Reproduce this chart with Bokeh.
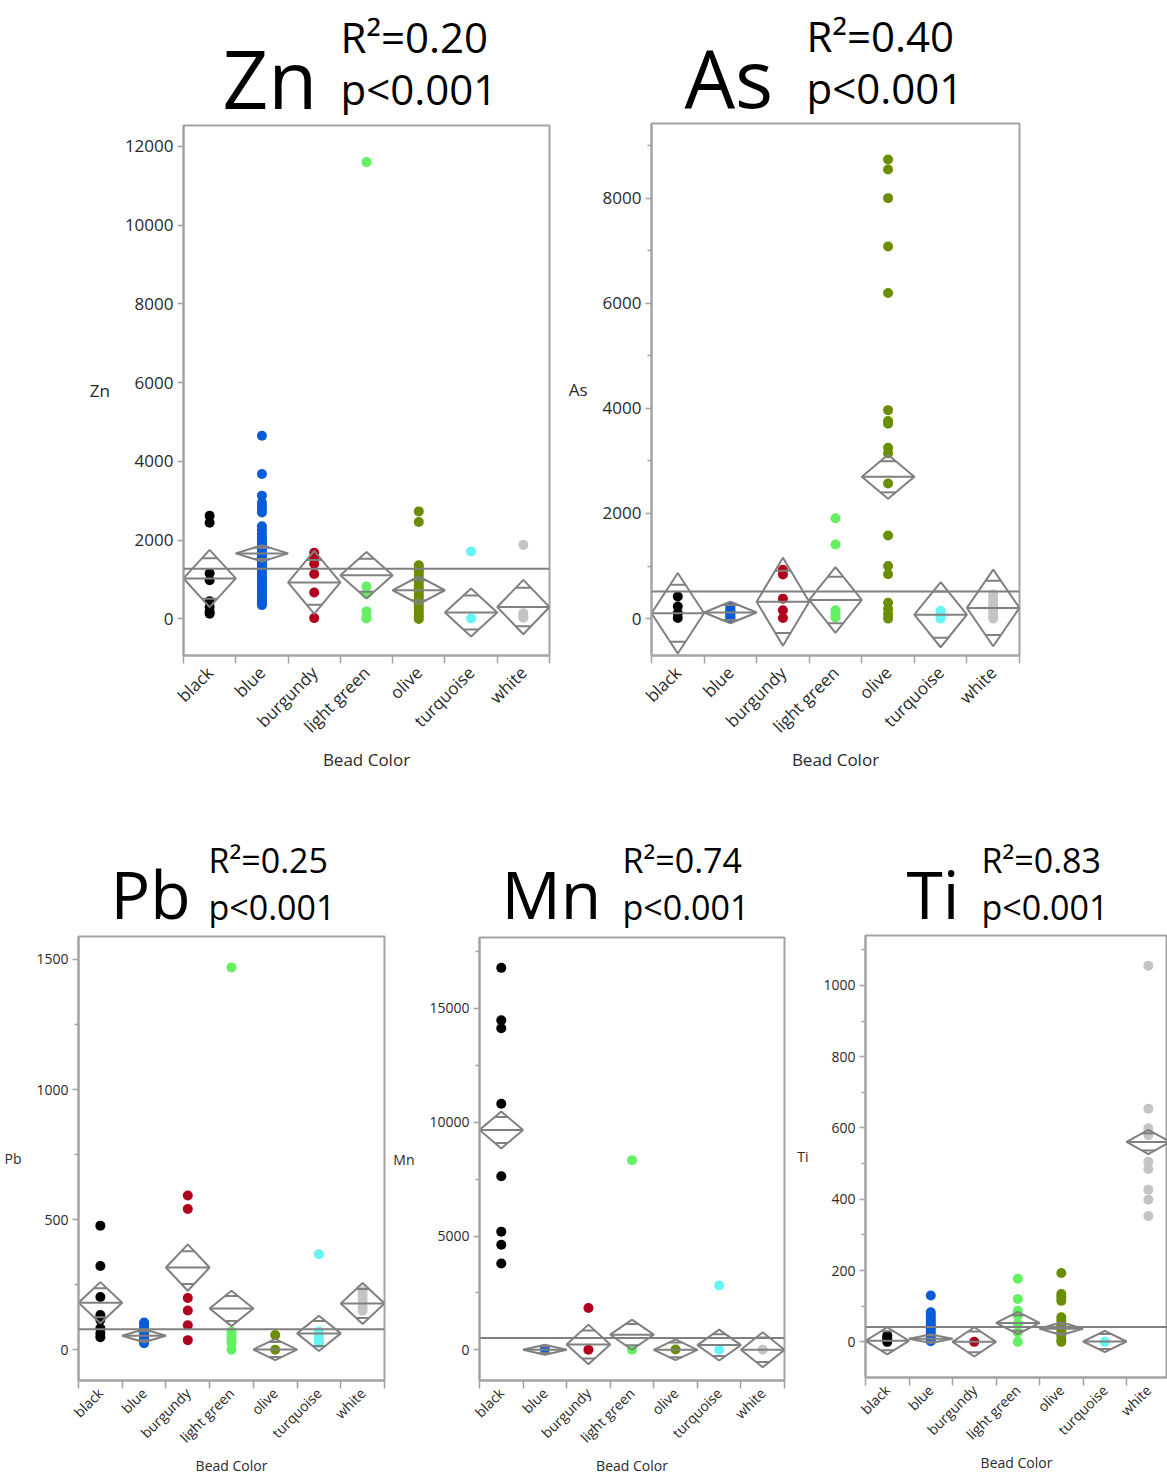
import math
from bokeh.plotting import figure
from bokeh.layouts import column, row
from bokeh.models import FixedTicker, Span, Range1d, ColumnDataSource
from bokeh.core.properties import value
from bokeh.embed import file_html
from bokeh.resources import INLINE

categories = ["black", "blue", "burgundy", "light green", "olive", "turquoise", "white"]
dot_colors = ["#000000", "#0a5bd8", "#b0001e", "#63f063", "#6b8e00", "#66f5f5", "#c4c4c4"]

# ---------------- Zn ----------------
zn_r2 = "0.20"
zn_points = [
    [2620, 2440, 1160, 980, 450, 300, 180, 130],
    [4650, 3680, 3130, 2950, 2850, 2780, 2700, 2350, 2250, 2150, 2080, 2000, 1950, 1880,
     1820, 1760, 1700, 1650, 1600, 1560, 1500, 1450, 1400, 1350, 1300, 1250, 1180, 1120,
     1050, 980, 920, 860, 800, 740, 680, 620, 560, 500, 450, 400, 350],
    [1680, 1540, 1400, 1140, 670, 20],
    [11600, 820, 640, 190, 60, 10],
    [2730, 2460, 1360, 1300, 1240, 1180, 1100, 1020, 940, 860, 780, 700, 620, 540, 460,
     380, 300, 220, 140, 60, 0],
    [1710, 10],
    [1880, 140, 60, 30],
]
zn_means = [1027, 1663, 927, 1109, 727, 164, 300]
zn_ci = [727, 205, 800, 590, 355, 610, 690]
zn_grand = 1273
zn_yticks = [0, 2000, 4000, 6000, 8000, 10000, 12000]
zn_yminor = []

# ---------------- As ----------------
as_r2 = "0.40"
as_points = [
    [420, 230, 100, 10],
    [220, 180, 150, 120, 90, 60, 30, 10],
    [930, 840, 380, 160, 10],
    [1910, 1410, 160, 90, 20],
    [8735, 8545, 8000, 7080, 6194, 3966, 3761, 3707, 3250, 3148, 2569, 1581, 1002, 845,
     300, 184, 82, 0],
    [150, 90, 40, 0],
    [460, 400, 340, 280, 220, 160, 100, 40, 0],
]
as_means = [102, 116, 320, 354, 2698, 75, 204]
as_ci = [767, 204, 838, 627, 419, 620, 729]
as_grand = 518
as_yticks = [0, 2000, 4000, 6000, 8000]
as_yminor = [1000, 3000, 5000, 7000, 9000]

# ---------------- Pb ----------------
pb_r2 = "0.25"
pb_points = [
    [477, 322, 203, 134, 115, 83, 63, 48],
    [105, 95, 85, 75, 65, 55, 45, 35, 25],
    [593, 541, 199, 151, 94, 37],
    [1469, 70, 55, 40, 25, 0],
    [57, 0],
    [367, 70, 55, 40, 25],
    [225, 210, 195, 180, 165, 150],
]
pb_means = [181, 54, 316, 159, 1, 63, 178]
pb_ci = [79, 25, 89, 68, 41, 68, 79]
pb_grand = 79
pb_yticks = [0, 500, 1000, 1500]
pb_yminor = [250, 750, 1250]

# ---------------- Mn ----------------
mn_r2 = "0.74"
mn_points = [
    [16786, 14485, 14130, 10812, 7626, 5192, 4617, 3791],
    [20],
    [1840, 0],
    [8330, 0],
    [10],
    [2830, 0],
    [0],
]
mn_means = [9661, 0, 236, 664, 0, 206, 0]
mn_ci = [811, 221, 870, 664, 457, 678, 767]
mn_grand = 516
mn_yticks = [0, 5000, 10000, 15000]
mn_yminor = [2500, 7500, 12500, 17500]

# ---------------- Ti ----------------
ti_r2 = "0.83"
ti_points = [
    [18, 12, 6, 0],
    [130, 83, 75, 68, 60, 52, 45, 38, 30, 22, 15, 8, 2],
    [0],
    [177, 120, 87, 73, 50, 26, 0],
    [193, 134, 125, 115, 69, 59, 45, 31, 17, 5, 0],
    [0],
    [1055, 654, 599, 580, 505, 485, 427, 399, 353],
]
ti_means = [3, 9, 0, 53, 37, 1, 561]
ti_ci = [38, 12, 41, 31, 18, 30, 34]
ti_grand = 42
ti_yticks = [0, 200, 400, 600, 800, 1000]
ti_yminor = [100, 300, 500, 700, 900, 1100]

FONT = "Open Sans"
GRAY = "#a3a3a3"
DGRAY = "#808080"
TOP_PAD = 3
MID = 0.388  # distance from baseline to the 'middle' anchor, in em (Open Sans)


def title_fig(frame_left, fw, bl, br, row_top, frame_top, sym, r2, big_fs, small_fs,
              big_x, small_x, big_base, r2_base, p_base):
    """Header strip whose frame spans the panel's frame columns; page-pixel coordinates."""
    h = frame_top - TOP_PAD - row_top
    t = figure(title=None, frame_width=fw, frame_height=h, min_border_left=bl,
               min_border_right=br, min_border_top=0, min_border_bottom=0,
               x_range=Range1d(frame_left, frame_left + fw),
               y_range=Range1d(row_top + h, row_top),
               x_axis_location=None, y_axis_location=None,
               output_backend="svg", toolbar_location=None, tools="")
    t.grid.visible = False
    t.outline_line_color = None
    t.background_fill_color = "white"
    t.border_fill_color = "white"
    t.text(x=[big_x], y=[big_base - MID * big_fs], text=[sym], text_font=value(FONT),
           text_font_size=f"{big_fs}px", text_color="black", text_baseline="middle",
           text_align="left")
    t.text(x=[small_x, small_x], y=[r2_base - MID * small_fs, p_base - MID * small_fs],
           text=["R\u00b2=" + r2, "p<0.001"], text_font=value(FONT),
           text_font_size=f"{small_fs}px", text_color="black", text_baseline="middle",
           text_align="left")
    return t


def panel(sym, pts, means, ci, grand, yr, yticks, yminor, fw, fh, borders, x_end,
          tick_fs, lab_fs, xlab_fs, xl_standoff, al_standoff):
    bl, br, bb = borders
    p = figure(title=None, frame_width=fw, frame_height=fh, x_range=Range1d(0.5, x_end),
               y_range=Range1d(yr[0], yr[1]), min_border_left=bl, min_border_right=br,
               min_border_top=TOP_PAD, min_border_bottom=bb, output_backend="svg",
               toolbar_location=None, tools="")
    p.grid.visible = False
    p.outline_line_color = GRAY
    p.outline_line_width = 2
    p.background_fill_color = "white"
    p.border_fill_color = "white"

    n = len(categories)
    xc = [i + 1 for i in range(n)]
    for i in range(n):
        src = ColumnDataSource(dict(x=[xc[i]] * len(pts[i]), y=pts[i]))
        p.scatter("x", "y", source=src, size=10, color=dot_colors[i], line_color=None)

    p.add_layout(Span(location=grand, dimension="width", line_color=DGRAY, line_width=2))

    dxs, dys = [], []
    sx0, sx1, sy = [], [], []
    k = math.sqrt(2) / 2
    for i in range(n):
        c, m, h = xc[i], means[i], ci[i]
        dxs.append([c - 0.5, c, c + 0.5, c])
        dys.append([m, m + h, m, m - h])
        sx0.append(c - 0.5); sx1.append(c + 0.5); sy.append(m)
        w = 0.5 * (1 - k)
        for s in (1, -1):
            sx0.append(c - w); sx1.append(c + w); sy.append(m + s * k * h)
    p.patches(dxs, dys, fill_color=None, line_color=DGRAY, line_width=2)
    p.segment(x0=sx0, y0=sy, x1=sx1, y1=sy, line_color=DGRAY, line_width=2)

    p.xaxis.ticker = FixedTicker(ticks=xc, minor_ticks=[i + 0.5 for i in range(n + 1)])
    p.xaxis.major_label_overrides = {xc[i]: categories[i] for i in range(n)}
    p.xaxis.major_label_orientation = math.pi / 4
    p.xaxis.major_tick_out = 0
    p.xaxis.major_tick_in = 0
    p.xaxis.minor_tick_out = 8
    p.xaxis.minor_tick_in = 0
    p.xaxis.major_label_standoff = xl_standoff
    p.xaxis.axis_label = "Bead Color"
    p.xaxis.axis_label_standoff = al_standoff
    p.xaxis.major_label_text_font_size = f"{xlab_fs}px"

    p.yaxis.ticker = FixedTicker(ticks=yticks, minor_ticks=yminor)
    p.yaxis.major_tick_out = 6
    p.yaxis.major_tick_in = 0
    p.yaxis.minor_tick_out = 4
    p.yaxis.minor_tick_in = 0
    p.yaxis.axis_label = sym
    p.yaxis.axis_label_orientation = "horizontal"
    p.yaxis.axis_label_standoff = 12
    p.yaxis.major_label_standoff = 4
    p.yaxis.major_label_text_font_size = f"{tick_fs}px"

    for ax in (p.xaxis, p.yaxis):
        ax.axis_line_color = GRAY
        ax.axis_line_width = 2
        ax.major_tick_line_color = GRAY
        ax.minor_tick_line_color = GRAY
        ax.major_tick_line_width = 1.5
        ax.minor_tick_line_width = 1.5
        ax.major_label_text_font = FONT
        ax.major_label_text_color = "#2a2a2a"
        ax.axis_label_text_font = FONT
        ax.axis_label_text_font_size = f"{lab_fs}px"
        ax.axis_label_text_font_style = "normal"
        ax.axis_label_text_color = "#2a2a2a"
    return p


# ---- top row (page y 0 .. 785) ----
t_zn = title_fig(183, 366, 183, 7, 0, 125, "Zn", zn_r2, 80, 42, 222, 340, 108, 52, 104)
p_zn = panel("Zn", zn_points, zn_means, zn_ci, zn_grand, (-930, 12530), zn_yticks, zn_yminor,
             366, 530, (183, 7, 130), 7.5, 17, 17, 17, 6, 0)
t_as = title_fig(651, 368, 95, 148, 0, 123, "As", as_r2, 80, 42, 684, 806, 107, 51, 103)
p_as = panel("As", as_points, as_means, as_ci, as_grand, (-702, 9420), as_yticks, as_yminor,
             368, 532, (95, 148, 130), 7.5, 17, 17, 17, 6, 0)

# ---- bottom row (page y 785 .. 1473) ----
t_pb = title_fig(78, 306, 78, 6, 785, 936, "Pb", pb_r2, 66, 34, 110, 208, 918, 873, 920)
p_pb = panel("Pb", pb_points, pb_means, pb_ci, pb_grand, (-118, 1588), pb_yticks, pb_yminor,
             306, 444, (78, 6, 93), 7.5, 14, 14, 14, 2, 0)
t_mn = title_fig(479, 305, 89, 6, 785, 937, "Mn", mn_r2, 66, 34, 501, 622, 918, 873, 920)
p_mn = panel("Mn", mn_points, mn_means, mn_ci, mn_grand, (-1350, 18120), mn_yticks, mn_yminor,
             305, 443, (89, 6, 93), 7.5, 14, 14, 14, 2, 0)
t_ti = title_fig(865, 302, 75, 0, 785, 935, "Ti", ti_r2, 66, 34, 906, 981, 918, 873, 920)
p_ti = panel("Ti", ti_points, ti_means, ti_ci, ti_grand, (-100, 1140), ti_yticks, ti_yminor,
             302, 442, (75, 0, 96), 7.44, 14, 14, 14, 2, 0)

layout = column(
    row(column(t_zn, p_zn), column(t_as, p_as)),
    row(column(t_pb, p_pb), column(t_mn, p_mn), column(t_ti, p_ti)),
)
open("out.html", "w").write(file_html(layout, INLINE))
